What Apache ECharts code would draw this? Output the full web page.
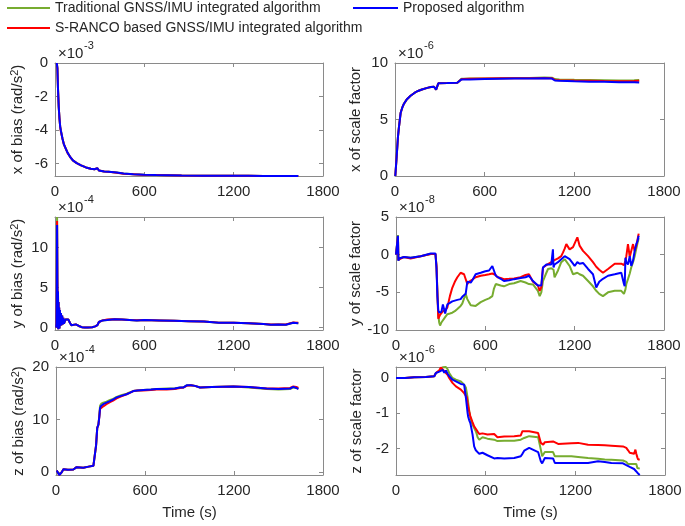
<!DOCTYPE html>
<html><head><meta charset="utf-8">
<script src="https://cdn.jsdelivr.net/npm/echarts@6/dist/echarts.min.js"></script>
<style>html,body{margin:0;padding:0;background:#fff}#c{width:685px;height:526px}</style>
</head><body><div id="c"></div>
<script>
// ---------- DATA ----------
const seriesNames = ['Traditional GNSS/IMU integrated algorithm', 'S-RANCO based GNSS/IMU integrated algorithm', 'Proposed algorithm'];
const xTickLabels = [0, 600, 1200, 1800];

// x of bias (x1e-3)
const tXB = [12,16,20,25,30,35,40,50,60,70,85,100,120,146,175,208,240,265,278,285,295,302,330,360,414,460,526,600,680,750,850,1000,1100,1200,1300,1400,1500,1600,1634];
const xBiasBlue = [0,-0.3,-1.5,-2.6,-3.3,-3.8,-4.05,-4.5,-4.85,-5.05,-5.35,-5.57,-5.8,-5.96,-6.1,-6.22,-6.3,-6.33,-6.28,-6.27,-6.4,-6.44,-6.46,-6.48,-6.52,-6.58,-6.62,-6.65,-6.67,-6.68,-6.7,-6.71,-6.71,-6.72,-6.72,-6.73,-6.73,-6.73,-6.73];
const xBiasRed = [0,-0.3,-1.5,-2.6,-3.3,-3.8,-4.1,-4.5,-4.85,-5.05,-5.37,-5.57,-5.8,-5.96,-6.1,-6.22,-6.3,-6.33,-6.28,-6.27,-6.4,-6.44,-6.46,-6.48,-6.53,-6.6,-6.63,-6.67,-6.67,-6.68,-6.7,-6.71,-6.71,-6.72,-6.72,-6.73,-6.73,-6.73,-6.73];
const xBiasGreen = [0,-0.3,-1.5,-2.6,-3.3,-3.8,-4.05,-4.5,-4.85,-5.05,-5.35,-5.57,-5.8,-5.96,-6.1,-6.22,-6.3,-6.33,-6.28,-6.27,-6.4,-6.44,-6.46,-6.48,-6.52,-6.58,-6.62,-6.65,-6.67,-6.68,-6.7,-6.71,-6.71,-6.72,-6.72,-6.73,-6.73,-6.73,-6.73];

// x of scale factor (x1e-6)
const tXS = [2,10,20,27,38,50,60,80,104,130,149,180,216,240,261,270,275,282,290,300,350,417,430,445,460,500,600,700,800,900,1000,1050,1070,1100,1200,1300,1400,1500,1600,1634];
const xScaleBlue = [0,1.5,3.5,4.4,5.6,6.1,6.4,6.8,7.1,7.35,7.5,7.65,7.8,7.88,7.9,7.85,7.65,7.6,8.2,8.25,8.22,8.25,8.4,8.55,8.55,8.55,8.58,8.6,8.62,8.62,8.65,8.62,8.45,8.42,8.38,8.35,8.33,8.3,8.3,8.28];
const xScaleRed = [0,1.5,3.5,4.4,5.6,6.1,6.4,6.8,7.1,7.35,7.5,7.65,7.8,7.88,7.9,7.85,7.65,7.6,8.2,8.25,8.22,8.25,8.4,8.57,8.58,8.6,8.62,8.64,8.66,8.66,8.68,8.66,8.5,8.48,8.45,8.43,8.4,8.38,8.4,8.42];
const xScaleGreen = [0,1.5,3.5,4.4,5.6,6.1,6.4,6.8,7.1,7.35,7.5,7.65,7.8,7.88,7.9,7.85,7.65,7.6,8.2,8.25,8.22,8.25,8.4,8.6,8.6,8.62,8.63,8.65,8.68,8.68,8.72,8.7,8.58,8.55,8.52,8.5,8.48,8.46,8.48,8.5];

// y of bias (x1e-4)
const tYB = [8,10,12,14,16,18,20,22,24,26,28,30,33,36,40,44,48,52,56,60,70,80,90,100,110,120,140,160,180,200,220,250,270,285,295,300,320,350,400,450,500,550,600,700,800,900,1000,1100,1200,1300,1400,1450,1500,1550,1600,1634];
const yBiasBlue = [0,0.5,5,12.8,6,1.5,4.5,-0.2,3.2,0.3,2.5,-0.1,2.2,0.2,1.8,0.3,1.5,0.4,1.2,0.5,1.0,0.9,1.0,0.6,0.3,0.2,0.4,0.2,0.05,0,0,0.05,0.15,0.3,0.7,0.85,0.9,0.95,1.05,1.0,0.95,0.9,0.95,0.9,0.85,0.8,0.75,0.6,0.6,0.55,0.45,0.35,0.4,0.35,0.6,0.55];
const yBiasRed = [0,0.5,5,13.3,6,1.5,4.5,-0.2,3.2,0.3,2.5,-0.1,2.2,0.2,1.8,0.3,1.5,0.4,1.2,0.5,1.0,0.9,1.0,0.6,0.3,0.2,0.4,0.2,0.05,0,0,0.05,0.15,0.3,0.7,0.85,0.9,1.0,1.05,1.02,0.95,0.92,0.95,0.9,0.85,0.8,0.75,0.62,0.6,0.55,0.45,0.38,0.4,0.38,0.65,0.6];
const yBiasGreen = [0,0.5,5,13.8,6,1.5,4.5,-0.2,3.2,0.3,2.5,-0.1,2.2,0.2,1.8,0.3,1.5,0.4,1.2,0.5,1.0,0.9,1.0,0.6,0.3,0.2,0.4,0.2,0.05,0,0,0.05,0.15,0.3,0.7,0.85,0.9,0.95,1.05,1.0,0.95,0.9,0.95,0.9,0.85,0.8,0.75,0.6,0.6,0.55,0.45,0.35,0.4,0.35,0.6,0.55];

// y of scale factor (x1e-8)
const tYS = [0,8,13,16,20,54,98,166,233,265,272,278,284,290,296,305,315,330,345,362,378,395,412,423,434,445,457,468,479,490,502,513,535,569,600,625,647,658,670,681,703,725,760,793,837,870,893,920,953,965,976,987,1010,1021,1043,1054,1058,1065,1088,1110,1122,1133,1144,1166,1189,1200,1218,1233,1256,1290,1323,1345,1365,1390,1424,1469,1513,1531,1536,1541,1547,1558,1570,1580,1592,1603,1614,1622,1630];
const yScaleBlue = [0,-0.1,2.5,-0.8,-0.5,-0.3,-0.4,-0.2,0.15,0.15,-1.8,-5.5,-7.4,-7.7,-7.9,-7.6,-6.6,-7.8,-6.6,-6.4,-6.2,-6.1,-6.0,-5.9,-5.9,-5.6,-5.4,-5.2,-3.6,-3.8,-3.7,-3.4,-2.6,-2.4,-2.2,-2.1,-1.5,-1.6,-2.8,-3.0,-3.2,-3.5,-3.4,-3.25,-3.1,-3.0,-2.8,-3.5,-4.1,-4.2,-4.1,-1.7,-1.3,-1.3,-1.3,0.7,-1.7,-1.3,-1.0,-0.6,-0.4,-0.2,0,-0.6,-1.2,-1.5,-1.0,-1.2,-1.1,-1.9,-2.6,-4.35,-3.6,-3.2,-2.8,-2.6,-2.4,-3.9,-4.2,-0.4,-1.0,-1.3,-0.2,-1.5,-0.8,0.5,1.4,1.8,2.5];
const yScaleRed = [0,-0.2,2.4,-0.7,-0.5,-0.3,-0.5,-0.2,0.1,0.1,-1.5,-5,-8.5,-8.5,-8.0,-7.8,-7.5,-7.4,-7.0,-5.5,-4.4,-3.6,-3.0,-2.7,-2.4,-2.2,-2.6,-2.8,-3.9,-3.6,-3.5,-3.3,-3.0,-2.8,-2.7,-2.6,-2.5,-2.4,-2.7,-3.0,-3.1,-3.25,-3.2,-3.15,-3.0,-2.7,-2.6,-3.6,-4.1,-4.8,-4.3,-1.7,-1.4,-1.3,-1.0,-0.9,-0.8,-0.8,-0.5,-0.2,0.3,0.8,1.4,0.7,1.0,1.2,2.3,1.2,0.5,-0.2,-1.0,-1.6,-2.0,-2.4,-1.9,-1.2,-1.2,-1.4,-1.5,-0.8,-0.2,1.4,-0.3,0.5,1.4,0.5,1.2,2.0,2.8];
const yScaleGreen = [0,-0.2,2.6,-0.8,-0.5,-0.3,-0.4,-0.2,0.1,0.1,-1.5,-5,-8.0,-9.0,-9.4,-9.0,-8.8,-8.3,-7.9,-7.8,-7.7,-7.5,-7.2,-7.0,-6.8,-6.5,-6.3,-5.2,-5.9,-6.3,-6.7,-6.9,-6.8,-6.3,-6.0,-5.8,-5.5,-4.5,-3.9,-4.0,-4.1,-4.2,-3.9,-3.8,-3.5,-3.7,-3.9,-3.95,-4.8,-5.5,-5.0,-3.5,-2.4,-1.9,-1.8,-1.8,-2.0,-3.0,-2.1,-1.0,-0.8,-0.6,-0.5,-1.5,-2.6,-2.4,-2.4,-2.6,-2.8,-3.5,-4.2,-4.8,-5.2,-5.5,-5.0,-4.8,-4.8,-5.2,-5.2,-4.6,-3.9,-3.25,-2.5,-1.7,-1.0,-0.2,0.8,1.5,2.2];

// z of bias (x1e-4)
const tZB = [5,15,22,30,38,50,80,117,139,184,220,252,262,265,270,278,286,292,297,305,319,340,364,385,409,440,476,500,521,550,589,640,679,746,800,836,860,881,910,937,971,1050,1196,1300,1421,1500,1578,1600,1620,1634];
const zBiasBlue = [0.25,0,-0.6,-0.4,-0.1,0.5,0.4,0.45,0.9,0.8,1.0,1.15,1.2,1.35,5.0,8.4,9.0,10.5,12.2,12.6,12.9,13.2,13.5,13.8,14.2,14.5,14.8,15.1,15.4,15.5,15.6,15.7,15.8,15.8,15.9,16.1,16.1,16.5,16.5,16.4,16.1,16.2,16.3,16.2,15.9,15.8,15.9,16.2,16.0,15.8];
const zBiasRed = [0.25,0,-0.6,-0.4,-0.1,0.5,0.4,0.45,0.9,0.8,1.0,1.15,1.2,1.35,5.0,8.4,9.0,10.5,12.0,12.3,12.5,12.9,13.3,13.6,14.0,14.4,14.8,15.1,15.4,15.5,15.5,15.6,15.7,15.7,15.8,16.0,16.1,16.4,16.5,16.4,16.1,16.2,16.3,16.2,15.9,15.9,16.0,16.3,16.2,16.0];
const zBiasGreen = [0.25,0,-0.6,-0.4,-0.1,0.5,0.4,0.45,0.9,0.8,1.0,1.15,1.2,1.35,5.0,8.4,9.0,10.8,12.6,13.0,13.2,13.4,13.7,13.9,14.3,14.6,14.9,15.2,15.4,15.5,15.6,15.7,15.8,15.9,15.9,16.1,16.1,16.5,16.5,16.4,16.1,16.2,16.3,16.1,15.8,15.7,15.8,16.1,16.0,15.9];

// z of scale factor (x1e-6)
const tZS = [0,60,122,200,256,267,290,300,312,323,334,345,356,378,401,412,434,456,468,474,479,483,490,497,501,512,523,534,541,546,557,563,579,612,657,679,724,791,835,846,858,891,951,969,978,985,996,1007,1051,1063,1085,1174,1219,1285,1352,1397,1441,1519,1530,1541,1553,1564,1593,1597,1602,1608,1615,1620,1624,1631];
const zScaleBlue = [0,0,0.02,0.03,0.05,0.14,0.18,0.2,0.23,0.15,0.21,0.12,0.05,-0.05,-0.1,-0.14,-0.17,-0.19,-0.57,-0.8,-0.99,-1.1,-1.2,-1.27,-1.35,-1.6,-1.94,-2.05,-2.08,-2.1,-2.15,-2.17,-2.12,-2.19,-2.28,-2.27,-2.28,-2.27,-2.22,-2.15,-2.06,-1.98,-2.1,-2.36,-2.42,-2.46,-2.27,-2.28,-2.28,-2.41,-2.41,-2.41,-2.41,-2.41,-2.36,-2.38,-2.41,-2.42,-2.44,-2.47,-2.5,-2.52,-2.58,-2.6,-2.62,-2.65,-2.68,-2.71,-2.74,-2.75];
const zScaleRed = [0,0,0.02,0.03,0.05,0.14,0.22,0.3,0.25,0.19,0.15,0.09,0,-0.14,-0.24,-0.26,-0.33,-0.43,-0.4,-0.55,-0.7,-0.8,-0.95,-1.08,-1.13,-1.25,-1.37,-1.44,-1.49,-1.52,-1.59,-1.58,-1.57,-1.6,-1.59,-1.68,-1.66,-1.65,-1.63,-1.51,-1.51,-1.51,-1.56,-1.84,-1.87,-1.89,-1.82,-1.78,-1.8,-1.84,-1.87,-1.85,-1.84,-1.89,-1.9,-1.91,-1.92,-1.94,-1.95,-1.98,-2.05,-2.12,-2.15,-2.1,-2.03,-2.15,-2.25,-2.31,-2.3,-2.31];
const zScaleGreen = [0,0,0.02,0.03,0.05,0.14,0.2,0.25,0.3,0.33,0.31,0.25,0.14,0,-0.05,-0.07,-0.1,-0.19,-0.28,-0.33,-0.55,-0.7,-0.94,-1.1,-1.18,-1.32,-1.42,-1.51,-1.6,-1.68,-1.75,-1.72,-1.68,-1.72,-1.75,-1.79,-1.78,-1.78,-1.75,-1.7,-1.7,-1.65,-1.68,-2.03,-2.22,-2.18,-2.1,-2.1,-2.1,-2.22,-2.22,-2.22,-2.24,-2.27,-2.29,-2.31,-2.32,-2.34,-2.34,-2.38,-2.44,-2.44,-2.44,-2.44,-2.44,-2.44,-2.55,-2.56,-2.57,-2.57];

// y-axis tick labels per panel
const yTicksXB = [0,-2,-4,-6];
const yTicksXS = [0,5,10];
const yTicksYB = [0,5,10];
const yTicksYS = [-10,-5,0,5];
const yTicksZB = [0,10,20];
const yTicksZS = [0,-1,-2];

// ---------- LAYOUT ----------
const FONT = '"Liberation Sans", Arial, sans-serif';
const FS = 15;
const TXT = '#262626';
const AX = '#8a8a8a';
const COLORS = ['#77AC30', '#FF0000', '#0000FF'];
const plain = v => String(v);

const panels = [
  {grid:{left:55, top:63, width:268, height:113}, t:tXB, v:[xBiasGreen,xBiasRed,xBiasBlue], min:-6.73, max:0, ticks:yTicksXB, name:'x of bias (rad/s{sup|2})', exp:'-3', gap:28, xname:false},
  {grid:{left:395, top:63, width:269, height:113}, t:tXS, v:[xScaleGreen,xScaleRed,xScaleBlue], min:0, max:10, ticks:yTicksXS, name:'x of scale factor', exp:'-6', gap:32, xname:false},
  {grid:{left:55, top:217, width:268, height:113}, t:tYB, v:[yBiasGreen,yBiasRed,yBiasBlue], min:-0.3, max:13.8, ticks:yTicksYB, name:'y of bias (rad/s{sup|2})', exp:'-4', gap:28, xname:false},
  {grid:{left:396, top:217, width:268, height:113}, t:tYS, v:[yScaleGreen,yScaleRed,yScaleBlue], min:-10, max:5, ticks:yTicksYS, name:'y of scale factor', exp:'-8', gap:33, xname:false},
  {grid:{left:56, top:367, width:267, height:108}, t:tZB, v:[zBiasGreen,zBiasRed,zBiasBlue], min:-0.6, max:20, ticks:yTicksZB, name:'z of bias (rad/s{sup|2})', exp:'-4', gap:28, xname:true},
  {grid:{left:396, top:367, width:269, height:108}, t:tZS, v:[zScaleGreen,zScaleRed,zScaleBlue], min:-2.75, max:0.31, ticks:yTicksZS, name:'z of scale factor', exp:'-6', gap:32, xname:true},
];

const grids = [], xAxes = [], yAxes = [], series = [], graphics = [];
panels.forEach((p, i) => {
  grids.push(Object.assign({show:false}, p.grid));
  const common = {axisLine:{show:true, onZero:false, lineStyle:{color:AX, width:1}}, splitLine:{show:false}};
  xAxes.push(Object.assign({}, common, {
    type:'value', gridIndex:i, position:'bottom', min:0, max:1800,
    axisTick:{inside:true, length:4, lineStyle:{color:AX}, customValues:xTickLabels},
    axisLabel:{color:TXT, fontSize:FS, fontFamily:FONT, margin:8, customValues:xTickLabels, formatter:plain},
    name: p.xname ? 'Time (s)' : '', nameLocation:'middle', nameGap:30,
    nameTextStyle:{color:TXT, fontSize:FS, fontFamily:FONT}
  }));
  xAxes.push(Object.assign({}, common, {
    type:'value', gridIndex:i, position:'top', min:0, max:1800,
    axisTick:{inside:true, length:4, lineStyle:{color:AX}, customValues:xTickLabels},
    axisLabel:{show:false}
  }));
  yAxes.push(Object.assign({}, common, {
    type:'value', gridIndex:i, position:'left', min:p.min, max:p.max,
    axisTick:{inside:true, length:4, lineStyle:{color:AX}, customValues:p.ticks},
    axisLabel:{color:TXT, fontSize:FS, fontFamily:FONT, margin:7, customValues:p.ticks, formatter:plain},
    name:p.name, nameLocation:'middle', nameGap:p.gap,
    nameTextStyle:{color:TXT, fontSize:FS, fontFamily:FONT,
      rich:{sup:{fontSize:11, fontFamily:FONT, color:TXT, verticalAlign:'top', padding:[0,0,7,0]}}}
  }));
  yAxes.push(Object.assign({}, common, {
    type:'value', gridIndex:i, position:'right', min:p.min, max:p.max,
    axisTick:{inside:true, length:4, lineStyle:{color:AX}, customValues:p.ticks},
    axisLabel:{show:false}
  }));
  p.v.forEach((vals, k) => {
    series.push({
      type:'line', name:seriesNames[k], xAxisIndex:i*2, yAxisIndex:i*2,
      data: p.t.map((tt, j) => [tt, vals[j]]),
      symbol:'none', lineStyle:{color:COLORS[k], width:2}, itemStyle:{color:COLORS[k]},
      animation:false, z: 2 + k
    });
  });
  graphics.push({type:'text', left:p.grid.left + 3, top:p.grid.top - 17,
    style:{text:'\u00d710', fontSize:FS, fontFamily:FONT, fill:TXT}});
  graphics.push({type:'text', left:p.grid.left + 29, top:p.grid.top - 23,
    style:{text:p.exp, fontSize:11, fontFamily:FONT, fill:TXT}});
});

const chart = echarts.init(document.getElementById('c'), null, {renderer:'canvas'});
chart.setOption({
  animation:false,
  backgroundColor:'#fff',
  legend:[
    {data:[seriesNames[0], seriesNames[1]], orient:'vertical', left:7, top:1, padding:0, itemGap:6,
     icon:'rect', itemWidth:43, itemHeight:2, itemStyle:{borderWidth:0},
     textStyle:{color:TXT, fontSize:14, fontFamily:FONT}, selectedMode:false},
    {data:[seriesNames[2]], left:353, top:1, padding:0,
     icon:'rect', itemWidth:45, itemHeight:2, itemStyle:{borderWidth:0},
     textStyle:{color:TXT, fontSize:14, fontFamily:FONT}, selectedMode:false}
  ],
  grid:grids, xAxis:xAxes, yAxis:yAxes, series:series, graphic:graphics
});
</script></body></html>
